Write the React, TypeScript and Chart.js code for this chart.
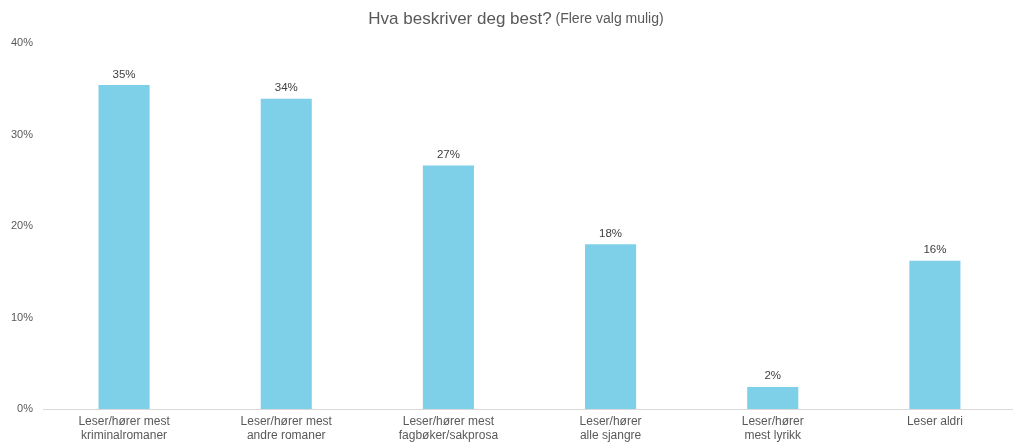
import React, { useEffect, useRef } from "react";
import { Chart, registerables } from "chart.js";

Chart.register(...registerables);

const categories: string[][] = [
  ["Leser/hører mest", "kriminalromaner"],
  ["Leser/hører mest", "andre romaner"],
  ["Leser/hører mest", "fagbøker/sakprosa"],
  ["Leser/hører", "alle sjangre"],
  ["Leser/hører", "mest lyrikk"],
  ["Leser aldri"],
];
const values: number[] = [35.4, 33.9, 26.6, 18.0, 2.4, 16.2];
const yTicks: number[] = [0, 10, 20, 30, 40];
const titleMain = "Hva beskriver deg best?";
const titleSub = " (Flere valg mulig)";

const FONT = "'Liberation Sans', Arial, Helvetica, sans-serif";

const titlePlugin = {
  id: "customTitle",
  afterDraw(chart: any) {
    const ctx = chart.ctx;
    ctx.save();
    ctx.textBaseline = "middle";
    ctx.fillStyle = "#595959";
    ctx.font = `17px ${FONT}`;
    const w1 = ctx.measureText(titleMain).width;
    ctx.font = `14px ${FONT}`;
    const w2 = ctx.measureText(titleSub).width;
    const x0 = 516 - (w1 + w2) / 2;
    ctx.textAlign = "left";
    ctx.font = `17px ${FONT}`;
    ctx.fillText(titleMain, x0, 19);
    ctx.font = `14px ${FONT}`;
    ctx.fillText(titleSub, x0 + w1, 19);
    ctx.restore();
  },
};

const labelPlugin = {
  id: "barLabels",
  afterDatasetsDraw(chart: any) {
    const ctx = chart.ctx;
    const meta = chart.getDatasetMeta(0);
    ctx.save();
    ctx.fillStyle = "#404040";
    ctx.font = `11.5px ${FONT}`;
    ctx.textAlign = "center";
    ctx.textBaseline = "bottom";
    meta.data.forEach((bar: any, i: number) => {
      ctx.fillText(Math.round(values[i]) + "%", bar.x, bar.y - 5);
    });
    ctx.restore();
  },
};

export default function App() {
  const ref = useRef<HTMLCanvasElement | null>(null);
  useEffect(() => {
    if (!ref.current) return;
    const chart = new Chart(ref.current, {
      type: "bar",
      data: {
        labels: categories,
        datasets: [
          {
            data: values,
            backgroundColor: "#7ED0E8",
            borderWidth: 0,
            categoryPercentage: 1,
            barPercentage: 0.315,
          },
        ],
      },
      options: {
        animation: false,
        responsive: false,
        maintainAspectRatio: false,
        layout: { padding: { top: 43, left: 0, right: 0, bottom: 0 } },
        plugins: {
          legend: { display: false },
          title: { display: false },
          tooltip: { enabled: false },
        },
        scales: {
          x: {
            grid: { display: false, drawTicks: false },
            border: { display: true, color: "#d9d9d9", width: 1 },
            ticks: {
              color: "#595959",
              font: { family: FONT, size: 12, lineHeight: 1.2 },
              padding: 5,
              maxRotation: 0,
              autoSkip: false,
            },
            afterFit(scale: any) {
              scale.height = 34;
            },
          },
          y: {
            min: 0,
            max: 40,
            afterBuildTicks(scale: any) {
              scale.ticks = yTicks.map((v) => ({ value: v }));
            },
            grid: { display: false, drawTicks: false },
            border: { display: false },
            ticks: {
              color: "#595959",
              font: { family: FONT, size: 11 },
              padding: 10,
              callback: (v: any) => v + "%",
            },
            afterFit(scale: any) {
              scale.width = 43;
            },
          },
        },
      },
      plugins: [titlePlugin, labelPlugin],
    });
    return () => chart.destroy();
  }, []);
  return (
    <div style={{ position: "absolute", left: 0, top: 0, width: 1013, height: 443, overflow: "hidden", background: "#fff" }}>
      <canvas ref={ref} width={1016} height={443} style={{ display: "block" }} />
    </div>
  );
}
